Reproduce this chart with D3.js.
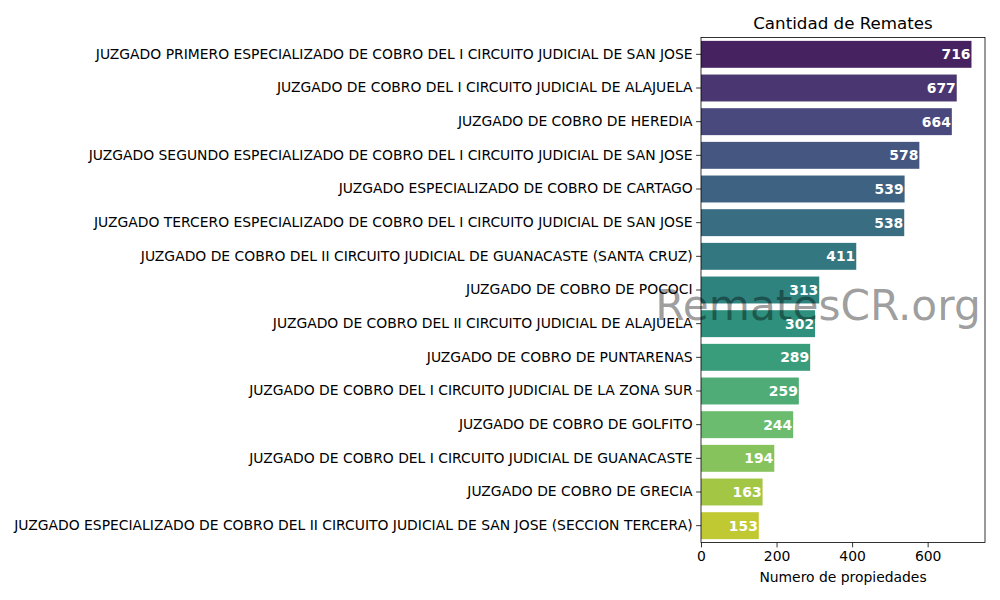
<!DOCTYPE html>
<html>
<head>
<meta charset="utf-8">
<script src="https://cdn.jsdelivr.net/npm/d3@7"></script>
<style>
  body { margin: 0; background: #fff; }
  svg { display: block; }
  text { font-family: "DejaVu Sans", sans-serif; }
</style>
</head>
<body>
<svg id="chart" width="1000" height="600"></svg>
<script>
const categories = [
  "JUZGADO PRIMERO ESPECIALIZADO DE COBRO DEL I CIRCUITO JUDICIAL DE SAN JOSE",
  "JUZGADO DE COBRO DEL I CIRCUITO JUDICIAL DE ALAJUELA",
  "JUZGADO DE COBRO DE HEREDIA",
  "JUZGADO SEGUNDO ESPECIALIZADO DE COBRO DEL I CIRCUITO JUDICIAL DE SAN JOSE",
  "JUZGADO ESPECIALIZADO DE COBRO DE CARTAGO",
  "JUZGADO TERCERO ESPECIALIZADO DE COBRO DEL I CIRCUITO JUDICIAL DE SAN JOSE",
  "JUZGADO DE COBRO DEL II CIRCUITO JUDICIAL DE GUANACASTE (SANTA CRUZ)",
  "JUZGADO DE COBRO DE POCOCI",
  "JUZGADO DE COBRO DEL II CIRCUITO JUDICIAL DE ALAJUELA",
  "JUZGADO DE COBRO DE PUNTARENAS",
  "JUZGADO DE COBRO DEL I CIRCUITO JUDICIAL DE LA ZONA SUR",
  "JUZGADO DE COBRO DE GOLFITO",
  "JUZGADO DE COBRO DEL I CIRCUITO JUDICIAL DE GUANACASTE",
  "JUZGADO DE COBRO DE GRECIA",
  "JUZGADO ESPECIALIZADO DE COBRO DEL II CIRCUITO JUDICIAL DE SAN JOSE (SECCION TERCERA)"
];
const values = [716, 677, 664, 578, 539, 538, 411, 313, 302, 289, 259, 244, 194, 163, 153];
const xTicks = [0, 200, 400, 600];
const title = "Cantidad de Remates";
const xLabel = "Numero de propiedades";
const watermark = "RematesCR.org";

const svg = d3.select("#chart");
const mLeft = 701, mRight = 985, mTop = 37.5, mBottom = 542.5;

const x = d3.scaleLinear().domain([0, d3.max(values) * 1.05]).range([mLeft, mRight]);
const y = d3.scaleBand().domain(categories).range([mTop, mBottom]).paddingInner(0.2).paddingOuter(0.1);
const n = categories.length;
const color = i => {
  const c = d3.hsl(d3.interpolateViridis((i + 1) / (n + 1)));
  c.s *= 0.75;
  return c.formatHex();
};

// bars
svg.append("g").selectAll("rect").data(values).join("rect")
  .attr("x", x(0))
  .attr("y", (d, i) => y(categories[i]))
  .attr("width", d => x(d) - x(0))
  .attr("height", y.bandwidth())
  .attr("fill", (d, i) => color(i));

// watermark
svg.append("text")
  .attr("x", 818).attr("y", 320)
  .attr("text-anchor", "middle")
  .attr("font-size", "42.3px")
  .attr("fill", "#000").attr("fill-opacity", 0.4)
  .text(watermark);

// value labels
svg.append("g").selectAll("text").data(values).join("text")
  .attr("x", d => x(d) - 1)
  .attr("y", (d, i) => y(categories[i]) + y.bandwidth() / 2)
  .attr("dy", "0.36em")
  .attr("text-anchor", "end")
  .attr("font-size", "13.9px")
  .attr("font-weight", "bold")
  .attr("fill", "#fff")
  .text(d => d);

// axes
const xAxis = d3.axisBottom(x).tickValues(xTicks).tickSize(4.9).tickPadding(3.5).tickSizeOuter(0);
const gx = svg.append("g").attr("transform", `translate(0,${mBottom})`).call(xAxis);
gx.select(".domain").remove();
gx.selectAll("text").attr("font-size", "13.9px").attr("fill", "#000").style("font-family", "DejaVu Sans");
gx.selectAll("line").attr("stroke", "#000").attr("stroke-width", 0.8);

const yAxis = d3.axisLeft(y).tickSize(4.9).tickPadding(3.5).tickSizeOuter(0);
const gy = svg.append("g").attr("transform", `translate(${mLeft},0)`).call(yAxis);
gy.select(".domain").remove();
gy.selectAll("text").attr("font-size", "13.9px").attr("fill", "#000").style("font-family", "DejaVu Sans");
gy.selectAll("line").attr("stroke", "#000").attr("stroke-width", 0.8);

// frame
svg.append("rect")
  .attr("x", mLeft).attr("y", mTop)
  .attr("width", mRight - mLeft).attr("height", mBottom - mTop)
  .attr("fill", "none").attr("stroke", "#000").attr("stroke-width", 0.8);

// title
svg.append("text")
  .attr("x", (mLeft + mRight) / 2).attr("y", 29.3)
  .attr("text-anchor", "middle")
  .attr("font-size", "16.7px")
  .attr("fill", "#000")
  .text(title);

// x label
svg.append("text")
  .attr("x", (mLeft + mRight) / 2).attr("y", 582)
  .attr("text-anchor", "middle")
  .attr("font-size", "13.9px")
  .attr("fill", "#000")
  .text(xLabel);
</script>
</body>
</html>
